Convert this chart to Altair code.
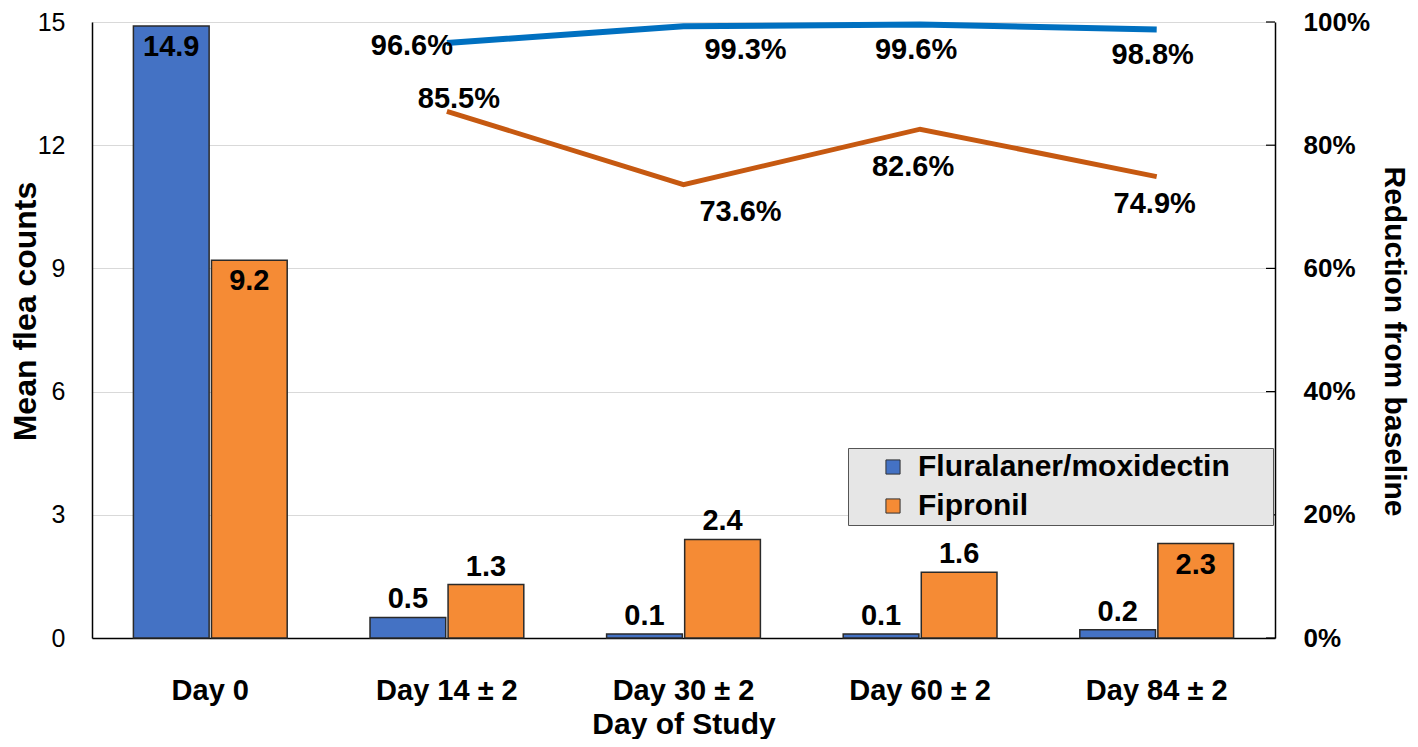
import altair as alt
import pandas as pd

days = ["Day 0", "Day 14 ± 2", "Day 30 ± 2", "Day 60 ± 2", "Day 84 ± 2"]
series = ["Fluralaner/moxidectin", "Fipronil"]
flu_counts = [14.9, 0.5, 0.1, 0.1, 0.2]
fip_counts = [9.2, 1.3, 2.4, 1.6, 2.3]
red_days = ["Day 14 ± 2", "Day 30 ± 2", "Day 60 ± 2", "Day 84 ± 2"]
flu_reduction = [96.6, 99.3, 99.6, 98.8]
fip_reduction = [85.5, 73.6, 82.6, 74.9]
left_ticks = [0, 3, 6, 9, 12, 15]
right_ticks = [0, 20, 40, 60, 80, 100]
bar_colors = ["#4472C4", "#F58B35"]
line_colors = ["#0070C0", "#C65911"]

FONT = "Liberation Sans"
W, H = 1183, 616

bars_df = pd.DataFrame(
    {"day": days * 2,
     "series": [series[0]] * 5 + [series[1]] * 5,
     "count": flu_counts + fip_counts}
)
bars_df["label"] = bars_df["count"].map(lambda v: f"{v:.1f}")

red_df = pd.DataFrame(
    {"day": red_days * 2,
     "series": [series[0]] * 4 + [series[1]] * 4,
     "reduction": flu_reduction + fip_reduction}
)
red_df["label"] = red_df["reduction"].map(lambda v: f"{v:.1f}%")

tick_df = pd.DataFrame({"reduction": right_ticks})

xenc = alt.X(
    "day:N", sort=days,
    scale=alt.Scale(paddingInner=0.35, paddingOuter=0.175),
    axis=alt.Axis(title="Day of Study", labelAngle=0, ticks=False,
                  domainColor="#000", domainWidth=1.5,
                  labelFont=FONT, labelFontSize=29, labelFontWeight="bold",
                  labelColor="#000", labelPadding=38,
                  titleFont=FONT, titleFontSize=30, titleFontWeight="bold",
                  titleColor="#000", titleY=86, titleBaseline="middle"),
)
xoff = alt.XOffset("series:N", sort=series, scale=alt.Scale(paddingInner=0.03))

left_y = alt.Y(
    "count:Q",
    scale=alt.Scale(domain=[0, 15], nice=False),
    axis=alt.Axis(title="Mean flea counts", values=left_ticks,
                  grid=True, gridColor="#d9d9d9", gridWidth=1, ticks=False,
                  domainColor="#000", domainWidth=1.5,
                  labelFont=FONT, labelFontSize=25, labelColor="#000",
                  labelPadding=27,
                  titleFont=FONT, titleFontSize=32, titleFontWeight="bold",
                  titleColor="#000", titleX=-67, titleY=289,
                  titleBaseline="middle", titleAlign="center"),
)

bars = alt.Chart(bars_df).mark_bar(stroke="#2a2a2a", strokeWidth=1.5).encode(
    x=xenc,
    xOffset=xoff,
    y=left_y,
    color=alt.Color(
        "series:N", sort=series,
        scale=alt.Scale(domain=series, range=bar_colors),
        legend=alt.Legend(
            title="M", titleOrient="right", titleOpacity=0,
            titlePadding=14, titleFontSize=30,
            orient="none", legendX=756, legendY=426,
            fillColor="#e6e6e6", strokeColor="#555555", padding=4,
            symbolType="square", symbolSize=200, symbolStrokeColor="#333",
            symbolStrokeWidth=1, symbolOffset=26,
            labelFont=FONT, labelFontSize=30, labelFontWeight="bold",
            labelColor="#000", labelLimit=0, labelOffset=10, rowPadding=9,
        ),
    ),
)

inside_cond = "(datum.day == 'Day 0') || (datum.day == 'Day 84 ± 2' && datum.series == 'Fipronil')"

bar_text_base = alt.Chart(bars_df).encode(
    x=alt.X("day:N", sort=days), xOffset=xoff,
    y=alt.Y("count:Q"), text="label:N",
)
bar_text_in = bar_text_base.transform_filter(inside_cond).mark_text(
    font=FONT, fontSize=29, fontWeight="bold", color="#000", dy=21)
bar_text_out = bar_text_base.transform_filter("!(" + inside_cond + ")").mark_text(
    font=FONT, fontSize=29, fontWeight="bold", color="#000", dy=-18)

right_y = alt.Y(
    "reduction:Q",
    scale=alt.Scale(domain=[0, 100], nice=False),
    axis=alt.Axis(orient="right", title="Reduction from baseline",
                  values=right_ticks, grid=False,
                  labelExpr="datum.value + '%'",
                  ticks=False, domainColor="#000", domainWidth=1.5,
                  labelFont=FONT, labelFontSize=26, labelFontWeight="bold",
                  labelColor="#000", labelPadding=28,
                  titleFont=FONT, titleFontSize=30, titleFontWeight="bold",
                  titleColor="#000", titleX=118, titleY=319,
                  titleBaseline="middle", titleAlign="center"),
)

def line_layer(name, color, width):
    return alt.Chart(red_df).transform_filter(
        alt.datum.series == name
    ).mark_line(color=color, strokeWidth=width).encode(
        x=alt.X("day:N", sort=days), y=right_y
    )

flu_line = line_layer(series[0], line_colors[0], 6)
fip_line = line_layer(series[1], line_colors[1], 5)

right_tick_marks = alt.Chart(tick_df).mark_rule(color="#000", strokeWidth=1.2).encode(
    x=alt.value(W - 9), x2=alt.value(W), y=alt.Y("reduction:Q")
)

def red_label(name, day_filter, dx, dy):
    return alt.Chart(red_df).transform_filter(
        alt.datum.series == name
    ).transform_filter(day_filter).mark_text(
        font=FONT, fontSize=29, fontWeight="bold", color="#000", dx=dx, dy=dy
    ).encode(x=alt.X("day:N", sort=days), y=alt.Y("reduction:Q"), text="label:N")

labels = [
    red_label(series[0], "datum.day == 'Day 14 ± 2'", -35, 3),
    red_label(series[0], "datum.day == 'Day 30 ± 2'", 62, 24),
    red_label(series[0], "datum.day == 'Day 60 ± 2' || datum.day == 'Day 84 ± 2'", -4, 26),
    red_label(series[1], "datum.day == 'Day 14 ± 2'", 12, -12),
    red_label(series[1], "datum.day == 'Day 30 ± 2'", 57, 27),
    red_label(series[1], "datum.day == 'Day 60 ± 2'", -7, 38),
    red_label(series[1], "datum.day == 'Day 84 ± 2'", -2, 27),
]

left = alt.layer(bars, bar_text_in, bar_text_out)
right = alt.layer(flu_line, fip_line, right_tick_marks, *labels)

chart = alt.layer(left, right).resolve_scale(y="independent").properties(
    width=W, height=H,
    autosize=alt.AutoSizeParams(type="none"),
    padding={"left": 84, "top": 14, "right": 135, "bottom": 101},
).configure_view(stroke=None).configure(background="white")

chart.save("out.html", embed_options={"renderer": "svg", "actions": False})
